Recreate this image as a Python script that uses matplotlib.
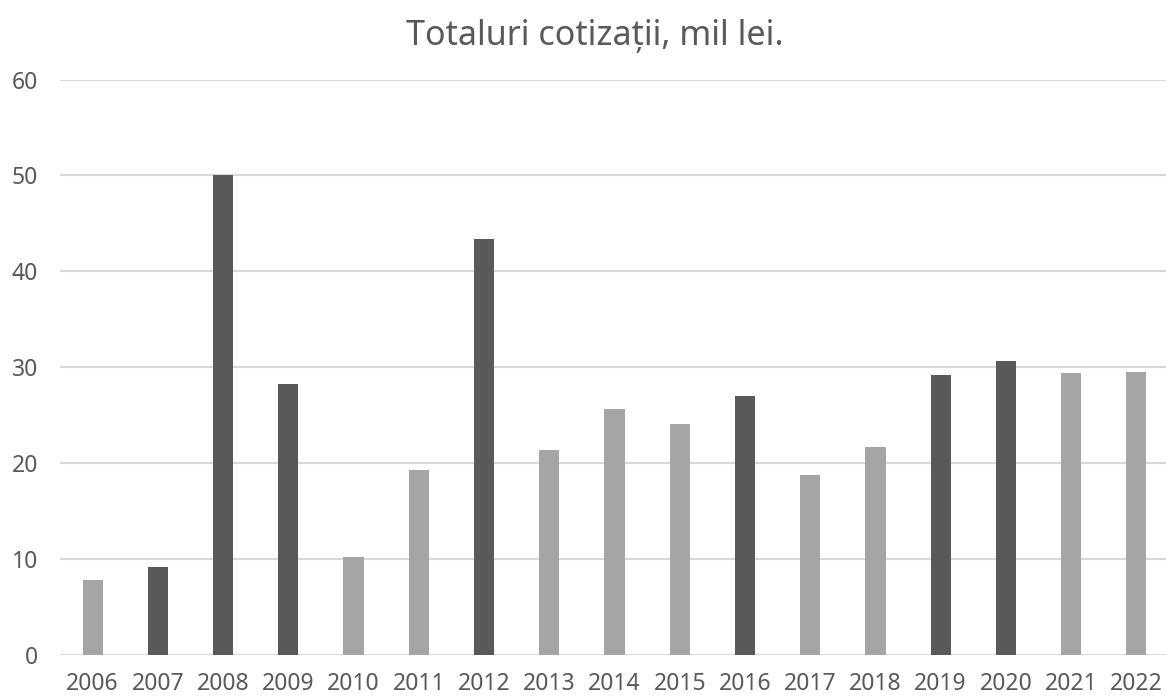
import matplotlib.pyplot as plt
import numpy as np

# date
years = ['2006', '2007', '2008', '2009', '2010', '2011', '2012', '2013', '2014',
         '2015', '2016', '2017', '2018', '2019', '2020', '2021', '2022']
totals = [7.8, 9.2, 50.0, 28.3, 10.2, 19.3, 43.4, 21.4, 25.6,
          24.1, 27.0, 18.8, 21.7, 29.2, 30.6, 29.4, 29.5]
dark_years = ['2007', '2008', '2009', '2012', '2016', '2019', '2020']

plt.rcParams['font.family'] = ['Noto Sans', 'DejaVu Sans']
text_color = '#595959'

fig = plt.figure(figsize=(11.66, 6.98), dpi=100)
ax = fig.add_axes([0.0515, 0.0616, 0.951, 0.8245])

x = np.arange(len(years))
colors = ['#595959' if y in dark_years else '#a5a5a5' for y in years]
ax.bar(x, totals, 0.31, color=colors, zorder=3)

ax.set_xlim(-0.5, len(years) - 0.5)
ax.set_ylim(0, 60)
ax.set_yticks(np.arange(0, 61, 10))
ax.set_xticks(x)
ax.set_xticklabels(years)

ax.grid(axis='y', color='#d9d9d9', linewidth=1.5, zorder=0)
for s in ax.spines.values():
    s.set_visible(False)
ax.tick_params(length=0, labelsize=16.5, colors=text_color)
ax.tick_params(axis='x', pad=12)
ax.tick_params(axis='y', pad=16)

fig.text(0.51, 0.949, 'Totaluri cotizații, mil lei.', ha='center', va='center',
         fontsize=24.5, color=text_color)

plt.savefig('out.png', dpi=100)
